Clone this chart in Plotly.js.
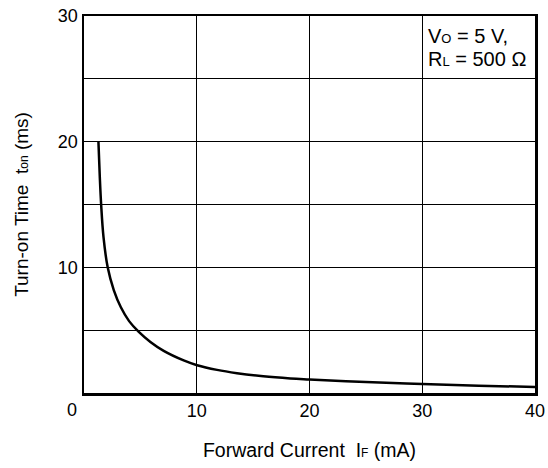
<!DOCTYPE html>
<html><head><meta charset="utf-8">
<script src="https://cdn.plot.ly/plotly-3.0.1.min.js"></script>
<style>html,body{margin:0;padding:0;background:#fff}#chart{width:548px;height:468px}</style>
</head><body><div id="chart"></div>
<script>
const forwardCurrent = [1.28, 1.4, 1.52, 1.73, 2.1, 2.64, 3.27, 4.0, 4.86, 5.89, 7.07, 8.84, 10.03, 11.8, 13.57, 15.9, 18.3, 20, 25, 30, 35, 40];
const turnOnTime = [20, 17.2, 15, 12.4, 10, 8.19, 6.82, 5.72, 4.86, 4.06, 3.35, 2.59, 2.21, 1.84, 1.58, 1.33, 1.16, 1.08, 0.87, 0.72, 0.58, 0.48];
const xTickVals = [0, 10, 20, 30, 40];
const xTickText = ['', '10', '20', '30', '40'];
const yTickVals = [5, 10, 15, 20, 25, 30];
const yTickText = ['', '10', '', '20', '', '30'];

const font = {family: 'Liberation Sans, Arial, sans-serif', color: '#000', size: 18};
const trace = {x: forwardCurrent, y: turnOnTime, mode: 'lines', type: 'scatter',
  line: {color: '#000', width: 2.5, shape: 'spline', smoothing: 1}, hoverinfo: 'skip'};
const layout = {
  width: 548, height: 468,
  margin: {l: 84, r: 13, t: 16, b: 75},
  paper_bgcolor: '#fff', plot_bgcolor: '#fff',
  showlegend: false, font: font,
  xaxis: {range: [0, 40], tickvals: xTickVals, ticktext: xTickText, showgrid: true,
    gridcolor: '#000', gridwidth: 1, zeroline: false, showline: true, mirror: true,
    linecolor: '#000', linewidth: 2.5, ticks: '', tickfont: {size: 18},
    title: {text: 'Forward Current &nbsp;I<span style="font-size:12px">F</span> (mA)', font: {size: 19.5}, standoff: 24}},
  yaxis: {range: [0, 30], tickvals: yTickVals, ticktext: yTickText, showgrid: true,
    gridcolor: '#000', gridwidth: 1, zeroline: false, showline: true, mirror: true,
    linecolor: '#000', linewidth: 2.5, ticks: '', tickfont: {size: 18},
    title: {text: 'Turn-on Time &nbsp;t<span style="font-size:12px">on</span> (ms)', font: {size: 19}, standoff: 24}},
  annotations: [
    {xref: 'x', yref: 'paper', x: 0, y: 0, xshift: -12, yshift: -17, text: '0', showarrow: false,
      font: {size: 18}, xanchor: 'center', yanchor: 'middle'},
    {xref: 'paper', yref: 'paper', x: 0.758, y: 0.947, text: 'V<span style="font-size:13px">O</span> = 5 V,',
      showarrow: false, xanchor: 'left', yanchor: 'middle', font: {size: 20}},
    {xref: 'paper', yref: 'paper', x: 0.758, y: 0.886, text: 'R<span style="font-size:13px">L</span> = 500 Ω',
      showarrow: false, xanchor: 'left', yanchor: 'middle', font: {size: 20}}
  ]
};
Plotly.newPlot('chart', [trace], layout, {displayModeBar: false, staticPlot: true});
</script></body></html>
